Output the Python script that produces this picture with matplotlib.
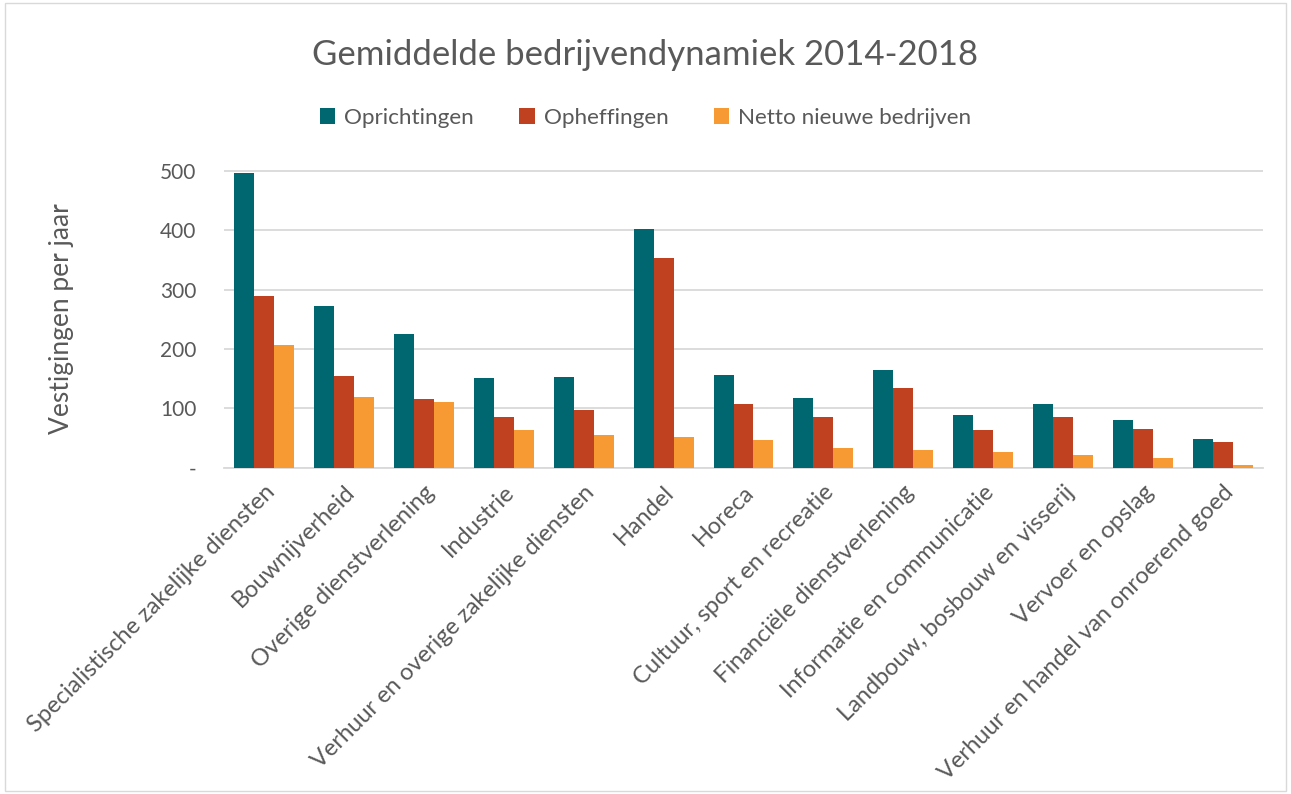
import numpy as np
import matplotlib.pyplot as plt

plt.rcParams['font.family'] = ['Lato', 'DejaVu Sans']

############################### DATA

sectoren = [
    "Specialistische zakelijke diensten",
    "Bouwnijverheid",
    "Overige dienstverlening",
    "Industrie",
    "Verhuur en overige zakelijke diensten",
    "Handel",
    "Horeca",
    "Cultuur, sport en recreatie",
    "Financiële dienstverlening",
    "Informatie en communicatie",
    "Landbouw, bosbouw en visserij",
    "Vervoer en opslag",
    "Verhuur en handel van onroerend goed",
]
oprichtingen = [497, 273, 226, 151, 153, 403, 156, 117, 165, 89, 107, 80, 48]
opheffingen = [290, 154, 115, 85, 98, 353, 108, 85, 135, 64, 86, 65, 44]
netto = [207, 119, 110, 64, 55, 51, 47, 34, 30, 26, 21, 16, 5]

y_ticks = [0, 100, 200, 300, 400, 500]
y_labels = ["-", "100", "200", "300", "400", "500"]

TEAL = "#00666f"
RED = "#c0411f"
ORANGE = "#f79a34"
GREY = "#595959"

############################### DISPLAY

fig = plt.figure(figsize=(12.91, 7.94), dpi=100)
ax = fig.add_axes([224 / 1291, 1 - 467.7 / 794, (1263 - 224) / 1291, (467.7 - 150) / 794])

x = np.arange(len(sectoren))
w = 0.25
ax.bar(x - w, oprichtingen, w, color=TEAL, label="Oprichtingen", zorder=3)
ax.bar(x, opheffingen, w, color=RED, label="Opheffingen", zorder=3)
ax.bar(x + w, netto, w, color=ORANGE, label="Netto nieuwe bedrijven", zorder=3)

ax.set_xlim(-0.5, len(sectoren) - 0.5)
ax.set_ylim(0, 500 * (467.7 - 150) / (467.7 - 171))
ax.set_yticks(y_ticks)
ax.set_yticklabels(y_labels)
ax.set_xticks(x)
ax.set_xticklabels(sectoren, rotation=45, ha="right", rotation_mode="anchor")

ax.grid(axis="y", color="#d9d9d9", linewidth=1.3, zorder=0)
for s in ["top", "right", "left"]:
    ax.spines[s].set_visible(False)
ax.spines["bottom"].set_color("#d9d9d9")
ax.spines["bottom"].set_linewidth(1.3)
ax.tick_params(axis="y", length=0, labelsize=15, colors=GREY, pad=20)
ax.tick_params(axis="x", length=0, labelsize=17, colors=GREY, pad=10)

fig.text(62 / 1291, 1 - 319 / 794, "Vestigingen per jaar", rotation=90,
         ha="center", va="center", fontsize=19, color=GREY)

fig.text(0.5, 1 - 55 / 794, "Gemiddelde bedrijvendynamiek 2014-2018",
         ha="center", va="center", fontsize=25, color=GREY)
fig.legend(loc="center", bbox_to_anchor=(0.5, 1 - 118 / 794), ncol=3, frameon=False,
           fontsize=16.2, labelcolor=GREY, handlelength=0.7, handleheight=0.7,
           columnspacing=2.0, handletextpad=0.4)

border = plt.Rectangle((0.004, 0.004), 0.992, 0.992, transform=fig.transFigure,
                       fill=False, edgecolor="#d9d9d9", linewidth=1)
fig.patches.append(border)

plt.savefig("out.png", dpi=100)
